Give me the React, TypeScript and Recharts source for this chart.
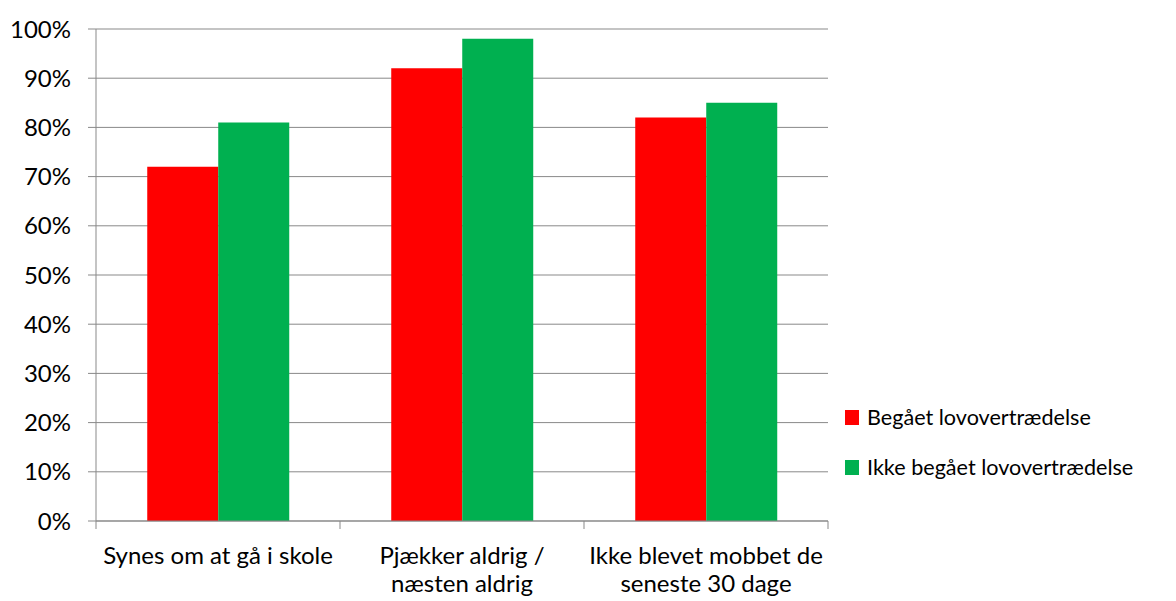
import { BarChart, Bar, XAxis, YAxis, CartesianGrid } from 'recharts';

const categories = [
  ['Synes om at gå i skole'],
  ['Pjækker aldrig /', 'næsten aldrig'],
  ['Ikke blevet mobbet de', 'seneste 30 dage'],
];
const begaaet = [72, 92, 82];
const ikkeBegaaet = [81, 98, 85];
const yTicks = [0, 10, 20, 30, 40, 50, 60, 70, 80, 90, 100];
const seriesNames = ['Begået lovovertrædelse', 'Ikke begået lovovertrædelse'];
const colors = ['#FF0000', '#00B050'];

const data = categories.map((lines, i) => ({
  name: lines.join(' '),
  lines,
  begaaet: begaaet[i],
  ikke: ikkeBegaaet[i],
}));

const W = 1176;
const H = 601;
const LEFT = 96;
const RIGHT = 828;
const TOP = 29;
const BOTTOM = 521;
const FONT = 'Lato, "Open Sans", sans-serif';
const GRID = '#898989';
const band = (RIGHT - LEFT) / categories.length;

function CatTick(props: any) {
  const { x, index, payload } = props;
  const lines: string[] = data[index]?.lines ?? [String(payload.value)];
  const left = x - band / 2;
  return (
    <g>
      <line x1={left} x2={left} y1={BOTTOM} y2={BOTTOM + 8} stroke={GRID} />
      {index === categories.length - 1 && (
        <line x1={left + band} x2={left + band} y1={BOTTOM} y2={BOTTOM + 8} stroke={GRID} />
      )}
      <text x={x} y={BOTTOM + 43} textAnchor="middle" fontSize={24} fontFamily={FONT} fill="#000">
        {lines.map((l, i) => (
          <tspan key={i} x={x} dy={i === 0 ? 0 : 28}>
            {l}
          </tspan>
        ))}
      </text>
    </g>
  );
}

function LegendBox() {
  return (
    <div style={{ position: 'absolute', left: 845, top: 392, fontFamily: FONT, fontSize: 21.6, color: '#000' }}>
      {seriesNames.map((n, i) => (
        <div key={n} style={{ display: 'flex', alignItems: 'center', height: 50, whiteSpace: 'nowrap' }}>
          <span style={{ width: 14, height: 15, background: colors[i], marginRight: 8, display: 'inline-block' }} />
          <span>{n}</span>
        </div>
      ))}
    </div>
  );
}

export default function App() {
  return (
    <div style={{ position: 'absolute', left: 0, top: 0, width: W, height: H, background: '#fff' }}>
      <BarChart
        width={W}
        height={H}
        data={data}
        margin={{ top: TOP, right: W - RIGHT, bottom: 0, left: 0 }}
        barCategoryGap="21%"
        barGap={0}
      >
        <CartesianGrid vertical={false} stroke={GRID} />
        <XAxis
          dataKey="name"
          height={H - BOTTOM}
          axisLine={{ stroke: GRID }}
          tickLine={false}
          tick={<CatTick />}
          interval={0}
        />
        <YAxis
          width={LEFT}
          domain={[0, 100]}
          ticks={yTicks}
          tickFormatter={(v: number) => `${v}%`}
          axisLine={{ stroke: GRID }}
          tickLine={{ stroke: GRID }}
          tickSize={8}
          tickMargin={17}
          tick={{ fontSize: 24, fontFamily: FONT, fill: '#000' }}
          interval={0}
        />
        <Bar dataKey="begaaet" name={seriesNames[0]} fill={colors[0]} isAnimationActive={false} />
        <Bar dataKey="ikke" name={seriesNames[1]} fill={colors[1]} isAnimationActive={false} />
      </BarChart>
      <LegendBox />
    </div>
  );
}
